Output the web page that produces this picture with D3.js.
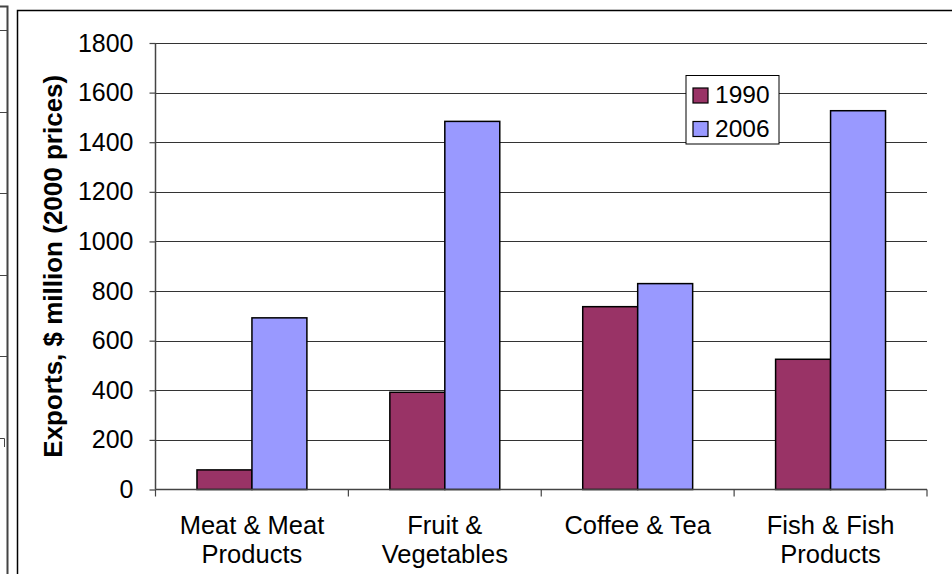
<!DOCTYPE html>
<html>
<head>
<meta charset="utf-8">
<script src="https://cdn.jsdelivr.net/npm/d3@7/dist/d3.min.js"></script>
<style>
  html, body { margin: 0; padding: 0; background: #fff; }
  svg { display: block; }
  text { font-family: Arial, "Liberation Sans", sans-serif; fill: #000; }
</style>
</head>
<body>
<svg id="chart" width="952" height="574"></svg>
<script>
const categories = ["Meat & Meat Products", "Fruit & Vegetables", "Coffee & Tea", "Fish & Fish Products"];
const categoryLines = [["Meat & Meat", "Products"], ["Fruit &", "Vegetables"], ["Coffee & Tea"], ["Fish & Fish", "Products"]];
const seriesNames = ["1990", "2006"];
const values1990 = [79, 392, 737, 525];
const values2006 = [692, 1484, 830, 1527];
const yTicks = [0, 200, 400, 600, 800, 1000, 1200, 1400, 1600, 1800];
const colors = ["#993366", "#9999FF"];
const yTitle = "Exports, $ million (2000 prices)";

const svg = d3.select("#chart");

// decorative edge of neighbouring chart (left)
const deco = svg.append("g").attr("stroke", "#444").attr("fill", "none");
deco.append("path").attr("d", "M0,6.5H7.5V574").attr("stroke-width", 2);
[30, 112, 193, 275, 356].forEach(yy => {
  deco.append("line").attr("x1", 0).attr("x2", 7).attr("y1", yy + 0.5).attr("y2", yy + 0.5).attr("stroke-width", 1);
});
deco.append("path").attr("d", "M0,438.5H4.5V447").attr("stroke-width", 1);

// chart frame
svg.append("rect").attr("x", 17.5).attr("y", 10.5).attr("width", 960).attr("height", 600)
  .attr("fill", "#fff").attr("stroke", "#000").attr("stroke-width", 1.5);

const plot = { left: 155.5, right: 927, top: 43, bottom: 489.5 };

const x = d3.scaleBand().domain(categories).range([plot.left, plot.right]).padding(0);
const y = d3.scaleLinear().domain([0, 1800]).range([plot.bottom, plot.top]);

// gridlines
svg.append("g").selectAll("line").data(yTicks.filter(d => d > 0)).join("line")
  .attr("x1", plot.left).attr("x2", plot.right)
  .attr("y1", d => Math.round(y(d)) + 0.5).attr("y2", d => Math.round(y(d)) + 0.5)
  .attr("stroke", "#333").attr("stroke-width", 1);

// bars
const bw = x.bandwidth() * 55 / 193;
const off = (x.bandwidth() - 2 * bw) / 2;
const seriesData = [values1990, values2006];
seriesData.forEach((vals, si) => {
  svg.append("g").selectAll("rect").data(vals).join("rect")
    .attr("x", (d, i) => x(categories[i]) + off + si * bw)
    .attr("y", d => y(d))
    .attr("width", bw)
    .attr("height", d => y(0) - y(d))
    .attr("fill", colors[si])
    .attr("stroke", "#000").attr("stroke-width", 1.5);
});

// y axis
const yAxis = d3.axisLeft(y).tickValues(yTicks).tickSize(6).tickPadding(16).tickFormat(d3.format("d"));
const gy = svg.append("g").attr("transform", `translate(${plot.left},0)`).call(yAxis);
gy.select(".domain").attr("stroke", "#444").attr("stroke-width", 1.5).attr("d", `M-0,${plot.top}V${plot.bottom}`);
gy.selectAll(".tick line").attr("stroke", "#444").attr("stroke-width", 1.2);
gy.selectAll(".tick text").attr("font-size", 25).attr("font-family", "Arial, 'Liberation Sans', sans-serif").attr("fill", "#000");

// x axis line and boundary ticks
const gx = svg.append("g");
gx.append("line").attr("x1", plot.left).attr("x2", plot.right).attr("y1", plot.bottom).attr("y2", plot.bottom)
  .attr("stroke", "#444").attr("stroke-width", 1.5);
const bounds = categories.map(c => x(c)).concat([plot.right]);
gx.selectAll("line.b").data(bounds).join("line").attr("class", "b")
  .attr("x1", d => d).attr("x2", d => d).attr("y1", plot.bottom).attr("y2", plot.bottom + 7)
  .attr("stroke", "#444").attr("stroke-width", 1.2);

// category labels
categories.forEach((c, i) => {
  const t = svg.append("text").attr("text-anchor", "middle").attr("font-size", 25.5)
    .attr("x", x(c) + x.bandwidth() / 2).attr("y", 534);
  categoryLines[i].forEach((ln, j) => {
    t.append("tspan").attr("x", x(c) + x.bandwidth() / 2).attr("dy", j === 0 ? 0 : 29).text(ln);
  });
});

// y title
svg.append("text").attr("transform", `translate(62,${(plot.top + plot.bottom) / 2}) rotate(-90)`)
  .attr("text-anchor", "middle").attr("font-size", 26).attr("font-weight", "bold").text(yTitle);

// legend
const lg = svg.append("g");
lg.append("rect").attr("x", 686).attr("y", 75.5).attr("width", 93).attr("height", 68.5)
  .attr("fill", "#fff").attr("stroke", "#000").attr("stroke-width", 1);
seriesNames.forEach((s, i) => {
  const yy = 88 + i * 33.5;
  lg.append("rect").attr("x", 693).attr("y", yy).attr("width", 15).attr("height", 15)
    .attr("fill", colors[i]).attr("stroke", "#000").attr("stroke-width", 1.2);
  lg.append("text").attr("x", 715).attr("y", yy + 15).attr("font-size", 24.5).text(s);
});
</script>
</body>
</html>
